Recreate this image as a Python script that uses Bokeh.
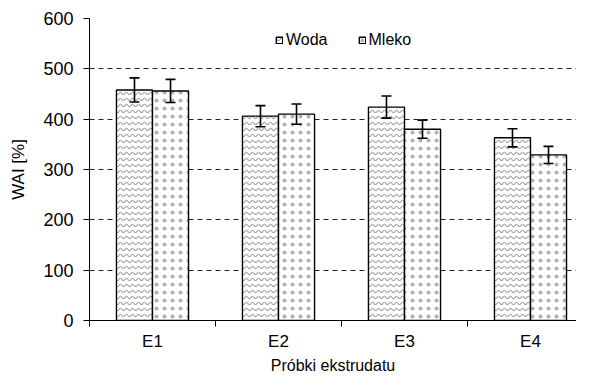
from bokeh.plotting import figure
from bokeh.models import (ColumnDataSource, Range1d, FixedTicker, Whisker, TeeHead,
                          Legend, LegendItem)
from bokeh.embed import file_html
from bokeh.resources import INLINE

categories = ["E1", "E2", "E3", "E4"]
woda = [458, 406, 424, 363]
woda_err = [24, 21, 22, 18]
mleko = [456, 410, 380, 329]
mleko_err = [23, 20, 18, 17]
y_ticks = [0, 100, 200, 300, 400, 500, 600]

FONT = "Liberation Sans"
centers = [i + 0.5 for i in range(len(categories))]
off = 0.143
bw = 0.286

src_w = ColumnDataSource(dict(
    x=[c - off for c in centers], top=woda,
    upper=[v + e for v, e in zip(woda, woda_err)],
    lower=[v - e for v, e in zip(woda, woda_err)]))
src_m = ColumnDataSource(dict(
    x=[c + off for c in centers], top=mleko,
    upper=[v + e for v, e in zip(mleko, mleko_err)],
    lower=[v - e for v, e in zip(mleko, mleko_err)]))

W, H = 576, 376
left, top, bottom = 89, 18, 54
cat_px = 126.0
p = figure(width=W, height=H, output_backend="svg", toolbar_location=None,
           x_range=Range1d(0, (W - left) / cat_px), y_range=Range1d(0, 600),
           min_border_left=left, min_border_right=0, min_border_top=top,
           min_border_bottom=bottom)
p.outline_line_color = None
p.background_fill_color = "white"

# grid
p.xgrid.visible = False
p.ygrid.ticker = FixedTicker(ticks=y_ticks[1:])
p.ygrid.grid_line_color = "#222222"
p.ygrid.grid_line_dash = "5 4"
p.ygrid.grid_line_width = 1

r_w = p.vbar(x="x", top="top", width=bw, source=src_w, fill_color="white",
             line_color="black", line_width=1.4, hatch_pattern="horizontal_wave",
             hatch_color="#777777", hatch_scale=6, hatch_weight=1)
r_m = p.vbar(x="x", top="top", width=bw, source=src_m, fill_color="white",
             line_color="black", line_width=1.4, hatch_pattern="dot",
             hatch_color="#b0b0b0", hatch_scale=8, hatch_weight=1)

for s in (src_w, src_m):
    wk = Whisker(base="x", upper="upper", lower="lower", source=s,
                 line_color="black", line_width=1.6, level="overlay",
                 upper_head=TeeHead(size=10, line_color="black", line_width=1.6),
                 lower_head=TeeHead(size=10, line_color="black", line_width=1.6))
    p.add_layout(wk)

# axes
xa = p.xaxis[0]
xa.ticker = FixedTicker(ticks=centers, minor_ticks=[0, 1, 2, 3, 4])
xa.major_label_overrides = {c: n for c, n in zip(centers, categories)}
xa.major_tick_out = 0
xa.major_tick_in = 0
xa.minor_tick_out = 6
xa.minor_tick_in = 0
xa.minor_tick_line_color = "black"
xa.axis_line_color = "black"
xa.major_label_standoff = 5
xa.major_label_text_font = FONT
xa.major_label_text_font_size = "17px"
xa.major_label_text_color = "black"
xa.axis_label = "Próbki ekstrudatu"
xa.axis_label_text_font = FONT
xa.axis_label_text_font_size = "16px"
xa.axis_label_text_font_style = "normal"
xa.axis_label_text_color = "black"
xa.axis_label_standoff = 3

ya = p.yaxis[0]
ya.ticker = FixedTicker(ticks=y_ticks, minor_ticks=[])
ya.major_tick_out = 6
ya.major_tick_in = 0
ya.major_tick_line_color = "black"
ya.axis_line_color = "black"
ya.major_label_standoff = 10
ya.major_label_text_font = FONT
ya.major_label_text_font_size = "18px"
ya.major_label_text_color = "black"
ya.axis_label = "WAI [%]"
ya.axis_label_text_font = FONT
ya.axis_label_text_font_size = "17px"
ya.axis_label_text_font_style = "normal"
ya.axis_label_text_color = "black"
ya.axis_label_standoff = 12

legend = Legend(items=[LegendItem(label="Woda", renderers=[r_w]),
                       LegendItem(label="Mleko", renderers=[r_m])],
                orientation="horizontal", location=(186, 271),
                glyph_width=8, glyph_height=8, label_height=16,
                label_standoff=3, spacing=30, padding=0, margin=0,
                border_line_color=None, background_fill_alpha=0,
                label_text_font=FONT, label_text_font_size="16px",
                label_text_color="black")
p.add_layout(legend, "center")

open("out.html", "w").write(file_html(p, INLINE))
